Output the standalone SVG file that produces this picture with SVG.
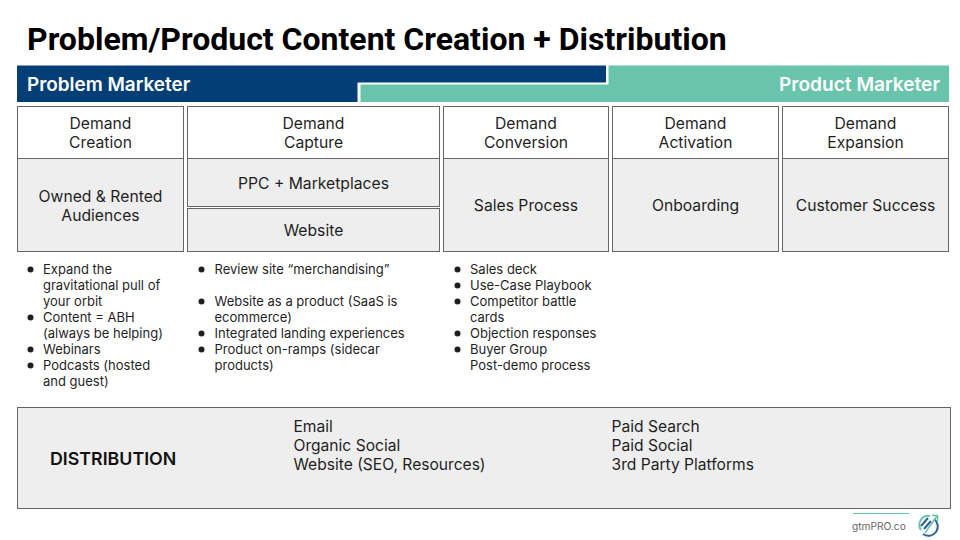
<svg xmlns="http://www.w3.org/2000/svg" width="960" height="540" viewBox="0 0 960 540">
<style>
text{font-family:"Inter","Liberation Sans",sans-serif;fill:#1f1f1f}
.h{font-size:15.700px;text-anchor:middle}
.m{font-size:15.700px;text-anchor:middle}
.b{font-size:13px}
.d{font-size:15.600px}
.w{fill:#fff;stroke:#666;stroke-width:1}
.g{fill:#eee;stroke:#666;stroke-width:1}
.dot{fill:#1f1f1f}
</style>
<rect width="960" height="540" fill="#fff"/>
<text x="27" y="50" style="font-family:Roboto,'Liberation Sans',sans-serif;font-weight:700;font-size:32px;fill:#000">Problem/Product Content Creation + Distribution</text>
<g id="product-marketer">
<path d="M608.500 65.500H949V102H360.500V84.500H608.500Z" fill="#68c4ab"/>
<text x="940" y="91" text-anchor="end" style="font-size:19.100px;font-weight:600;fill:#fff">Product Marketer</text>
</g>
<g id="problem-marketer">
<path d="M17 65.500H606V82.500H357.500V102H17Z" fill="#033e76"/>
<text x="27" y="91" style="font-size:18.900px;font-weight:600;fill:#fff">Problem Marketer</text>
</g>
<g id="demand-creation">
<rect class="w" x="17.500" y="106.500" width="166" height="52"/>
<text class="h" x="100.500" y="129">Demand</text><text class="h" x="100.500" y="148">Creation</text>
<rect class="g" x="17.500" y="158.500" width="166" height="93"/>
<text class="m" x="100.500" y="202">Owned &amp; Rented</text><text class="m" x="100.500" y="221">Audiences</text>
</g>
<g id="demand-capture">
<rect class="w" x="187.500" y="106.500" width="252" height="52"/>
<text class="h" x="313.500" y="129">Demand</text><text class="h" x="313.500" y="148">Capture</text>
<rect class="g" x="187.500" y="158.500" width="252" height="48"/>
<text class="m" x="313.500" y="188.500">PPC + Marketplaces</text>
<rect class="g" x="187.500" y="208.500" width="252" height="43"/>
<text class="m" x="313.500" y="236">Website</text>
</g>
<g id="demand-conversion">
<rect class="w" x="443.500" y="106.500" width="165" height="52"/>
<text class="h" x="526" y="129">Demand</text><text class="h" x="526" y="148">Conversion</text>
<rect class="g" x="443.500" y="158.500" width="165" height="93"/>
<text class="m" x="526" y="211">Sales Process</text>
</g>
<g id="demand-activation">
<rect class="w" x="612.500" y="106.500" width="166" height="52"/>
<text class="h" x="695.500" y="129">Demand</text><text class="h" x="695.500" y="148">Activation</text>
<rect class="g" x="612.500" y="158.500" width="166" height="93"/>
<text class="m" x="695.500" y="211">Onboarding</text>
</g>
<g id="demand-expansion">
<rect class="w" x="782.500" y="106.500" width="166" height="52"/>
<text class="h" x="865.500" y="129">Demand</text><text class="h" x="865.500" y="148">Expansion</text>
<rect class="g" x="782.500" y="158.500" width="166" height="93"/>
<text class="m" x="865.500" y="211">Customer Success</text>
</g>
<g id="creation-list">
<circle class="dot" cx="30.500" cy="269.500" r="3"/><circle class="dot" cx="30.500" cy="317.500" r="3"/><circle class="dot" cx="30.500" cy="349.500" r="3"/><circle class="dot" cx="30.500" cy="365.500" r="3"/>
<text class="b" x="43" y="274">Expand the</text>
<text class="b" x="43" y="290">gravitational pull of</text>
<text class="b" x="43" y="306">your orbit</text>
<text class="b" x="43" y="322">Content = ABH</text>
<text class="b" x="43" y="338">(always be helping)</text>
<text class="b" x="43" y="354">Webinars</text>
<text class="b" x="43" y="370">Podcasts (hosted</text>
<text class="b" x="43" y="386">and guest)</text>
</g>
<g id="capture-list">
<circle class="dot" cx="201.500" cy="269.500" r="3"/><circle class="dot" cx="201.500" cy="301.500" r="3"/><circle class="dot" cx="201.500" cy="333.500" r="3"/><circle class="dot" cx="201.500" cy="349.500" r="3"/>
<text class="b" x="214.500" y="274">Review site “merchandising”</text>
<text class="b" x="214.500" y="306">Website as a product (SaaS is</text>
<text class="b" x="214.500" y="322">ecommerce)</text>
<text class="b" x="214.500" y="338">Integrated landing experiences</text>
<text class="b" x="214.500" y="354">Product on-ramps (sidecar</text>
<text class="b" x="214.500" y="370">products)</text>
</g>
<g id="conversion-list">
<circle class="dot" cx="457.500" cy="269.500" r="3"/><circle class="dot" cx="457.500" cy="285.500" r="3"/><circle class="dot" cx="457.500" cy="301.500" r="3"/><circle class="dot" cx="457.500" cy="333.500" r="3"/><circle class="dot" cx="457.500" cy="349.500" r="3"/>
<text class="b" x="470" y="274">Sales deck</text>
<text class="b" x="470" y="290">Use-Case Playbook</text>
<text class="b" x="470" y="306">Competitor battle</text>
<text class="b" x="470" y="322">cards</text>
<text class="b" x="470" y="338">Objection responses</text>
<text class="b" x="470" y="354">Buyer Group</text>
<text class="b" x="470" y="370">Post-demo process</text>
</g>
<g id="distribution">
<rect class="g" x="17.500" y="407.500" width="933" height="101"/>
<text x="50" y="465" style="font-size:17.800px;font-weight:600;fill:#111">DISTRIBUTION</text>
<text class="d" x="293.500" y="432">Email</text>
<text class="d" x="293.500" y="451">Organic Social</text>
<text class="d" x="293.500" y="470">Website (SEO, Resources)</text>
<text class="d" x="611.500" y="432">Paid Search</text>
<text class="d" x="611.500" y="451">Paid Social</text>
<text class="d" x="611.500" y="470">3rd Party Platforms</text>
</g>
<g id="footer">
<line x1="853" y1="513.500" x2="909" y2="513.500" stroke="#68c4ab"/>
<text x="852" y="530" style="font-size:10.200px;fill:#666">gtmPRO.co</text>
<path d="M921 530A9 9 0 0 1 930 516" fill="none" stroke="#68c4ab" stroke-width="2"/>
<path d="M934 519A9 9 0 0 1 923 534" fill="none" stroke="#2a6296" stroke-width="2"/>
<path d="M925 533L937 516M932 515.500H937.500V521" fill="none" stroke="#68c4ab" stroke-width="1.500"/>
<path d="M921 526L928 518M924 529L931 521" stroke="#2a6296" stroke-width="2"/>
</g>
</svg>
